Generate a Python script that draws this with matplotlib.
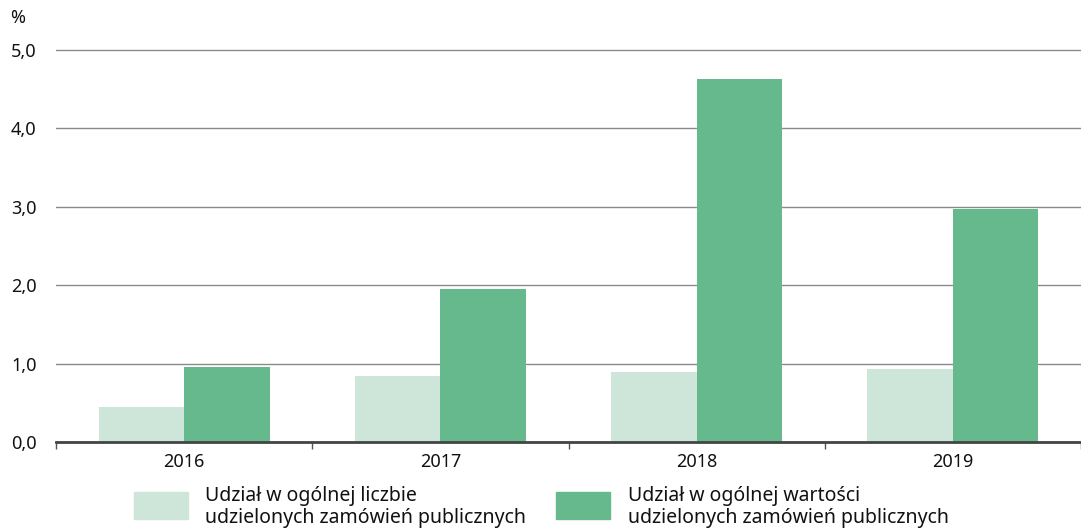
import matplotlib
matplotlib.use("Agg")
import matplotlib.pyplot as plt
from matplotlib.patches import Rectangle
import numpy as np

# Dane: udział (%) w zamówieniach publicznych
lata = ["2016", "2017", "2018", "2019"]
udzial_liczba = [0.45, 0.84, 0.89, 0.93]
udzial_wartosc = [0.96, 1.95, 4.63, 2.97]
etykiety_y = ["0,0", "1,0", "2,0", "3,0", "4,0", "5,0"]
legenda = ["Udział w ogólnej liczbie\nudzielonych zamówień publicznych",
           "Udział w ogólnej wartości\nudzielonych zamówień publicznych"]

kolor_jasny = "#cde6d9"
kolor_ciemny = "#66b88d"

plt.rcParams["font.family"] = ["Noto Sans", "DejaVu Sans"]

W, H = 1081, 529
fig = plt.figure(figsize=(W / 100, H / 100), dpi=100)

# os: lewa krawedz 56 px, zero na 442 px, 78.4 px na 1 p.p.
lewa = 56
ymax = 5.1
px_na_jedn = 78.4
dol = (H - 442) / H
wys = ymax * px_na_jedn / H
ax = fig.add_axes([lewa / W, dol, 1 - lewa / W, wys])

x = np.arange(len(lata))
szer = 1 / 3
ax.bar(x - szer / 2, udzial_liczba, width=szer, color=kolor_jasny, zorder=2)
ax.bar(x + szer / 2, udzial_wartosc, width=szer, color=kolor_ciemny, zorder=2)

ax.set_xlim(-0.5, (W - lewa) / 259 - 0.5)
ax.set_ylim(0, ymax)

ax.set_yticks(np.arange(0, 6, 1.0))
ax.set_yticklabels(etykiety_y, fontsize=13, color="#111111")
ax.tick_params(axis="y", length=0, pad=14)
ax.yaxis.grid(True, color="#8a8a8a", linewidth=1.0, zorder=0)

ax.set_xticks(x)
ax.set_xticklabels(lata, fontsize=13, color="#111111")
ax.tick_params(axis="x", which="major", length=0, pad=8)
ax.set_xticks(np.arange(-0.5, len(lata), 1.0), minor=True)
ax.tick_params(axis="x", which="minor", length=5, width=1, color="#555555")

for s in ["top", "right", "left"]:
    ax.spines[s].set_visible(False)
ax.spines["bottom"].set_color("#444444")
ax.spines["bottom"].set_linewidth(2)
ax.spines["bottom"].set_zorder(3)

fig.text(10 / W, 1 - 18 / H, "%", fontsize=13, va="center", ha="left", color="#111111")

# legenda rysowana recznie
for i, (kol, txt) in enumerate(zip([kolor_jasny, kolor_ciemny], legenda)):
    x0 = [134, 556][i]
    fig.add_artist(Rectangle((x0 / W, 1 - 519 / H), 54 / W, 27 / H,
                             transform=fig.transFigure, color=kol))
    fig.text([205, 628][i] / W, 1 - 507 / H, txt, fontsize=14, va="center",
             ha="left", color="#111111", linespacing=1.1)

fig.savefig("out.png", dpi=100)
